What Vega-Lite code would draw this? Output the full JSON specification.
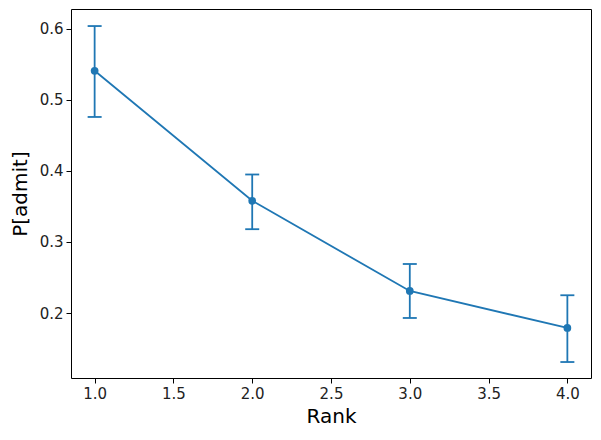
{
  "$schema": "https://vega.github.io/schema/vega-lite/v6.json",
  "width": 520,
  "height": 369,
  "autosize": {"type": "none"},
  "padding": {"left": 71, "top": 9, "right": 10, "bottom": 62},
  "background": "white",
  "config": {
    "font": "DejaVu Sans",
    "view": {"stroke": "black", "strokeWidth": 1},
    "axis": {
      "grid": false,
      "domain": false,
      "tickColor": "black",
      "tickSize": 5,
      "tickWidth": 1,
      "labelColor": "#222222",
      "labelFontSize": 15,
      "labelPadding": 3,
      "titleFontSize": 20,
      "titleFontWeight": "normal",
      "titleColor": "black"
    }
  },
  "data": {
    "values": [
      {"rank": 1, "p": 0.541, "lo": 0.476, "hi": 0.604},
      {"rank": 2, "p": 0.358, "lo": 0.318, "hi": 0.395},
      {"rank": 3, "p": 0.231, "lo": 0.193, "hi": 0.269},
      {"rank": 4, "p": 0.179, "lo": 0.131, "hi": 0.225}
    ]
  },
  "encoding": {
    "x": {
      "field": "rank",
      "type": "quantitative",
      "scale": {"domain": [0.85, 4.15], "nice": false, "zero": false},
      "axis": {"title": "Rank", "values": [1, 1.5, 2, 2.5, 3, 3.5, 4], "format": ".1f", "titlePadding": 5}
    }
  },
  "layer": [
    {
      "mark": {"type": "rule", "color": "#1f77b4", "strokeWidth": 1.8},
      "encoding": {
        "y": {
          "field": "lo",
          "type": "quantitative",
          "scale": {"domain": [0.1085, 0.628], "nice": false, "zero": false},
          "axis": {"title": "P[admit]", "values": [0.2, 0.3, 0.4, 0.5, 0.6], "format": ".1f", "titlePadding": 9}
        },
        "y2": {"field": "hi"}
      }
    },
    {
      "mark": {"type": "tick", "orient": "horizontal", "color": "#1f77b4", "size": 14, "thickness": 1.8, "opacity": 1},
      "encoding": {"y": {"field": "lo", "type": "quantitative"}}
    },
    {
      "mark": {"type": "tick", "orient": "horizontal", "color": "#1f77b4", "size": 14, "thickness": 1.8, "opacity": 1},
      "encoding": {"y": {"field": "hi", "type": "quantitative"}}
    },
    {
      "mark": {"type": "line", "color": "#1f77b4", "strokeWidth": 1.8},
      "encoding": {"y": {"field": "p", "type": "quantitative"}}
    },
    {
      "mark": {"type": "point", "filled": true, "color": "#1f77b4", "size": 60, "opacity": 1},
      "encoding": {"y": {"field": "p", "type": "quantitative"}}
    }
  ]
}
